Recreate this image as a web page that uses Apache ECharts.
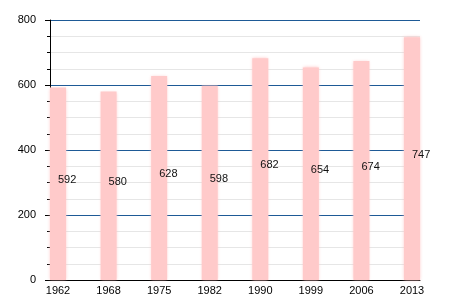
<!DOCTYPE html>
<html>
<head>
<meta charset="utf-8">
<script src="https://cdn.jsdelivr.net/npm/echarts@6/dist/echarts.min.js"></script>
<style>
  html, body { margin: 0; padding: 0; background: #fff; }
  #chart { width: 450px; height: 300px; }
</style>
</head>
<body>
<div id="chart"></div>
<script>
const years = ['1962', '1968', '1975', '1982', '1990', '1999', '2006', '2013']
const population = [592, 580, 628, 598, 682, 654, 674, 747]
const yTicks = [0, 200, 400, 600, 800]

const chart = echarts.init(document.getElementById('chart'))

const option = {
    backgroundColor: '#fff',
    animation: false,
    textStyle: { fontFamily: 'Liberation Sans, Arial, sans-serif' },
    grid: [
        // frame: y axis, gridlines, bottom axis line
        { left: 50, right: 30, top: 20, bottom: 20 },
        // bars sit inset from the frame edges
        { left: 58, right: 38, top: 20, bottom: 20 }
    ],
    xAxis: [
        {
            gridIndex: 0,
            type: 'category',
            data: years,
            axisLine: { lineStyle: { color: '#000', width: 1 } },
            axisTick: { show: false },
            axisLabel: { show: false },
            splitLine: { show: false }
        },
        {
            gridIndex: 1,
            type: 'category',
            data: years,
            boundaryGap: false,
            axisLine: { show: false },
            axisTick: { show: false },
            axisLabel: { color: '#000', fontSize: 11, margin: 5, interval: 0 },
            splitLine: { show: false }
        }
    ],
    yAxis: [
        {
            gridIndex: 0,
            type: 'value',
            min: yTicks[0],
            max: yTicks[yTicks.length - 1],
            interval: 200,
            axisLine: { show: true, lineStyle: { color: '#000', width: 1 } },
            axisTick: { show: true, length: 5, lineStyle: { color: '#000' } },
            minorTick: { show: true, splitNumber: 4, length: 3, lineStyle: { color: '#000' } },
            axisLabel: { color: '#000', fontSize: 11, margin: 14 },
            splitLine: { show: true, lineStyle: { color: '#1e5a96', width: 1 } },
            minorSplitLine: { show: true, lineStyle: { color: '#e6e6e6', width: 1 } }
        },
        {
            gridIndex: 1,
            type: 'value',
            min: yTicks[0],
            max: yTicks[yTicks.length - 1],
            show: false
        }
    ],
    series: [
        {
            type: 'bar',
            xAxisIndex: 1,
            yAxisIndex: 1,
            data: population,
            barWidth: 16,
            itemStyle: {
                color: '#ffcaca',
                shadowColor: 'rgba(255, 200, 200, 0.9)',
                shadowBlur: 3
            },
            label: {
                show: true,
                position: 'inside',
                align: 'left',
                offset: [0, -4],
                color: '#111',
                fontSize: 11
            }
        }
    ]
}

chart.setOption(option)
</script>
</body>
</html>
